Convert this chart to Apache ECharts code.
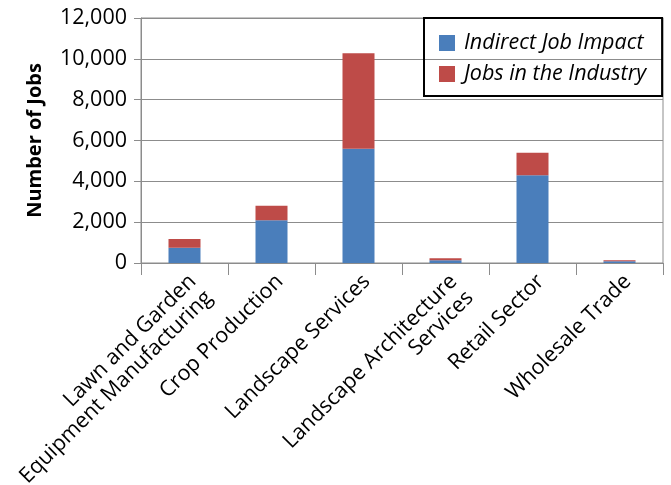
<!DOCTYPE html>
<html>
<head>
<meta charset="utf-8">
<script src="https://cdn.jsdelivr.net/npm/echarts@6/dist/echarts.min.js"></script>
<style>
html,body{margin:0;padding:0;background:#fff;}
#chart{width:671px;height:485px;}
</style>
</head>
<body>
<div id="chart"></div>
<script>
const categories = [
  'Lawn and Garden\nEquipment Manufacturing',
  'Crop Production',
  'Landscape Services',
  'Landscape Architecture\nServices',
  'Retail Sector',
  'Wholesale Trade'
];
const seriesNames = ['Indirect Job Impact', 'Jobs in the Industry'];
const indirectJobImpact = [750, 2100, 5600, 130, 4300, 80];
const jobsInIndustry = [430, 700, 4670, 100, 1100, 50];
const yMin = 0, yMax = 12000, yStep = 2000;
const yAxisTitle = 'Number of Jobs';

const FONT = 'Open Sans';
const FS = 21.5;
const chart = echarts.init(document.getElementById('chart'), null, {renderer: 'canvas'});
chart.setOption({
  animation: false,
  backgroundColor: '#fff',
  textStyle: {fontFamily: FONT},
  grid: {left: 141, right: 8, top: 18, bottom: 222, containLabel: false, outerBoundsMode: 'none',
    show: true, borderColor: '#8c8c8c', borderWidth: 1, backgroundColor: 'transparent'},
  legend: {
    orient: 'vertical',
    left: 424, top: 18,
    padding: [14, 16, 11, 15],
    itemWidth: 16, itemHeight: 16, itemGap: 9,
    borderColor: '#000', borderWidth: 2,
    icon: 'rect',
    textStyle: {fontFamily: FONT, fontSize: FS, fontStyle: 'italic', color: '#000', padding: [0, 0, 0, 4]},
    data: seriesNames
  },
  xAxis: {
    type: 'category',
    data: categories,
    axisLine: {lineStyle: {color: '#8c8c8c', width: 1}},
    axisTick: {show: true, length: 12, lineStyle: {color: '#8c8c8c'}},
    axisLabel: {interval: 0, rotate: 45, fontSize: FS, color: '#000', fontFamily: FONT, margin: 7,
      lineHeight: 23, verticalAlign: 'top'}
  },
  yAxis: {
    type: 'value',
    min: yMin, max: yMax, interval: yStep,
    name: yAxisTitle,
    nameLocation: 'middle',
    nameGap: 96,
    nameTextStyle: {fontSize: 20, fontWeight: 'bold', color: '#000', fontFamily: FONT},
    axisLine: {show: true, lineStyle: {color: '#8c8c8c'}},
    axisTick: {show: true, length: 7, lineStyle: {color: '#8c8c8c'}},
    axisLabel: {fontSize: FS, color: '#000', margin: 14, fontFamily: FONT,
      formatter: v => v.toLocaleString('en-US')},
    splitLine: {lineStyle: {color: '#8c8c8c', width: 1}}
  },
  series: [
    {name: seriesNames[0], type: 'bar', stack: 'jobs', data: indirectJobImpact, barWidth: 32,
     itemStyle: {color: '#4A7EBB'}},
    {name: seriesNames[1], type: 'bar', stack: 'jobs', data: jobsInIndustry, barWidth: 32,
     itemStyle: {color: '#BE4B48'}}
  ]
});
</script>
</body>
</html>
